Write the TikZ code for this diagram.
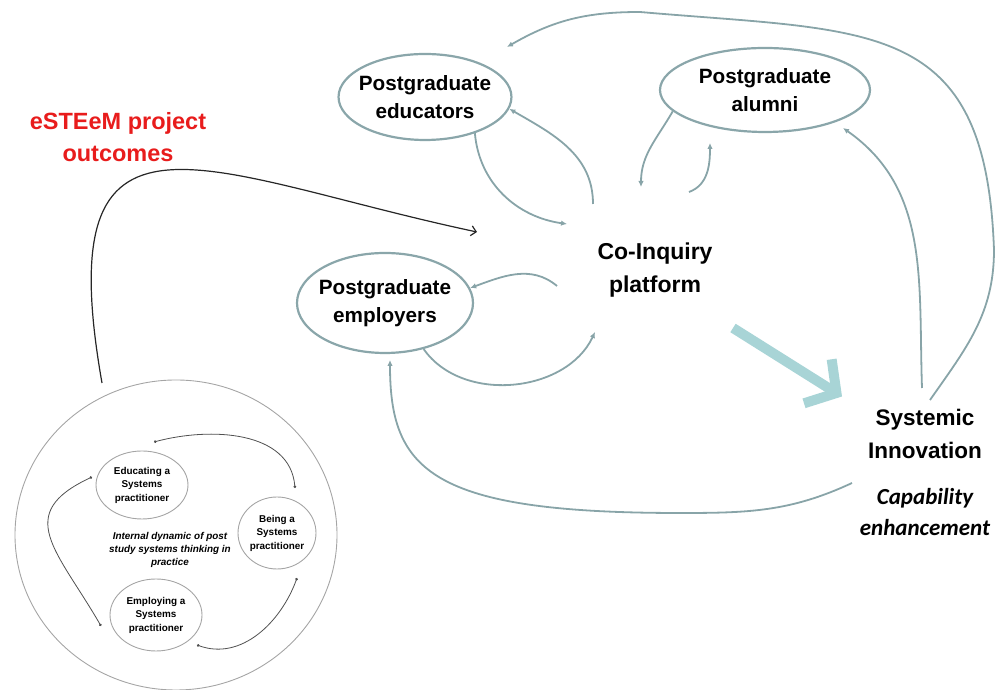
\documentclass[tikz,border=0pt]{standalone}
\usepackage{fontspec}
\setmainfont{Liberation Sans}
\newfontfamily\capfont{Carlito}
\usepackage{tikz}
\usetikzlibrary{shapes.geometric,arrows.meta}
\definecolor{ringgray}{RGB}{138,166,170}
\definecolor{linkgray}{RGB}{136,164,168}
\definecolor{flowteal}{RGB}{168,212,214}
\definecolor{outred}{RGB}{232,28,28}
\definecolor{innergray}{RGB}{165,165,165}
\definecolor{innerdark}{RGB}{80,80,80}

\begin{document}
\begin{tikzpicture}[x=1pt, y=1pt,
  groupnode/.style={ellipse, draw=ringgray, line width=2.2pt, inner sep=0pt, align=center,
    font=\bfseries\fontsize{20.7pt}{28pt}\selectfont},
  rolenode/.style={ellipse, draw=innergray, line width=0.9pt, inner sep=0pt, align=center,
    font=\bfseries\fontsize{9.9pt}{13.5pt}\selectfont},
  linkarrow/.style={draw=linkgray, line width=1.8pt, -{Latex[length=6pt,width=5.5pt]}},
  flowarrow/.style={draw=flowteal, line width=10pt, -{Straight Barb[length=22pt,width=52pt]}},
  loopline/.style={draw=innerdark, line width=0.8pt, {Circle[length=2.6pt]}-{Circle[length=2.6pt]}},
  projectarrow/.style={draw=black!85, line width=1.2pt, -{Straight Barb[length=5pt,width=10pt]}}]

  \useasboundingbox (0,0) rectangle (997,690);

  %% stakeholder groups
  \node[groupnode, minimum width=172, minimum height=86, inner xsep=-5pt] (educators) at (425,593) {Postgraduate\\educators};
  \node[groupnode, minimum width=210, minimum height=84] (alumni) at (765,600) {Postgraduate\\alumni};
  \node[groupnode, minimum width=176, minimum height=100, inner xsep=-4pt] (employers) at (385,387) {Postgraduate\\employers};

  \node[align=center, font=\bfseries\fontsize{23pt}{33pt}\selectfont] (platform) at (655,420) {Co-Inquiry\\platform};
  \node[align=center, font=\bfseries\fontsize{22.5pt}{33pt}\selectfont] (innovation) at (925,256.5) {Systemic\\Innovation};
  \node[align=center, font=\capfont\bfseries\itshape\fontsize{23pt}{31pt}\selectfont] (capability) at (925,177.5) {Capability\\enhancement};
  \node[align=center, text=outred, font=\bfseries\fontsize{23.5pt}{32pt}\selectfont] (outcomes) at (118,553) {eSTEeM project\\outcomes};

  %% inner dynamic
  \node[ellipse, draw=innergray, line width=0.9pt, minimum width=322, minimum height=310] (practice) at (176,155) {};
  \node[rolenode, minimum width=92, minimum height=68] (educating) at (142,205) {Educating a\\Systems\\practitioner};
  \node[rolenode, minimum width=78, minimum height=72] (being) at (277,157) {Being a\\Systems\\practitioner};
  \node[rolenode, minimum width=92, minimum height=72] (employing) at (156,75) {Employing a\\Systems\\practitioner};
  \node[align=center, font=\bfseries\itshape\fontsize{9.9pt}{13pt}\selectfont] (dynamic) at (170,140) {Internal dynamic of post\\study systems thinking in\\practice};

  \draw[loopline] ([shift={(18,45)}]being.center) to[out=95, in=15] ([shift={(12,43)}]educating.center); %% being->educating
  \draw[loopline] ([shift={(-50,8)}]educating.center) to[out=-155, in=120, looseness=1.5] ([shift={(-55,-11)}]employing.center); %% educating->employing
  \draw[loopline] ([shift={(41,-30)}]employing.center) to[out=-20, in=-110] ([shift={(20,-45)}]being.center); %% employing->being

  %% project outcomes into the platform
  \draw[projectarrow] ([shift={(-74,152)}]practice.center) .. controls +(100:312) and +(168:282) .. ([shift={(-178,38)}]platform.center);

  %% platform loops
  \draw[linkarrow] (educators.-36) to[out=-85, in=172] ([shift={(-88,46)}]platform.center); %% educators->platform
  \draw[linkarrow] ([shift={(-62,66)}]platform.center) to[out=90, in=-30] (educators.-8); %% platform->educators
  \draw[linkarrow] (alumni.-167) to[out=-120, in=90] ([shift={(-14,83)}]platform.center); %% alumni->platform
  \draw[linkarrow] ([shift={(34,78)}]platform.center) to[out=20, in=-90] ([shift={(-55,-53)}]alumni.center); %% platform->alumni
  \draw[linkarrow] ([shift={(-98,-16)}]platform.center) to[out=140, in=20] (employers.10); %% platform->employers
  \draw[linkarrow] (employers.-50) to[out=-55, in=-115] ([shift={(-60,-62)}]platform.center); %% employers->platform

  \draw[flowarrow] ([shift={(78,-58)}]platform.center) -- ([shift={(-83,37)}]innovation.center); %% platform->innovation

  %% feedback from innovation
  \coordinate (rightbend) at (994,440);
  \coordinate (topbend) at (640,678);
  \coordinate (bottombend) at (680,177);
  \draw[linkarrow] ([shift={(-3,45.5)}]innovation.center) to[out=92, in=-35] ([shift={(78,-38)}]alumni.center); %% innovation->alumni
  \draw[linkarrow] ([shift={(5,33.5)}]innovation.center) to[out=55, in=-90] (rightbend)
    to[out=92, in=-5, looseness=1.4] (topbend) to[out=180, in=30] ([shift={(82,50)}]educators.center); %% innovation->educators
  \draw[linkarrow] ([shift={(-73,29.5)}]capability.center) to[out=-155, in=0] (bottombend)
    .. controls +(-250,0) and +(0,-110) .. ([shift={(5,-57)}]employers.center); %% innovation->employers
\end{tikzpicture}
\end{document}
